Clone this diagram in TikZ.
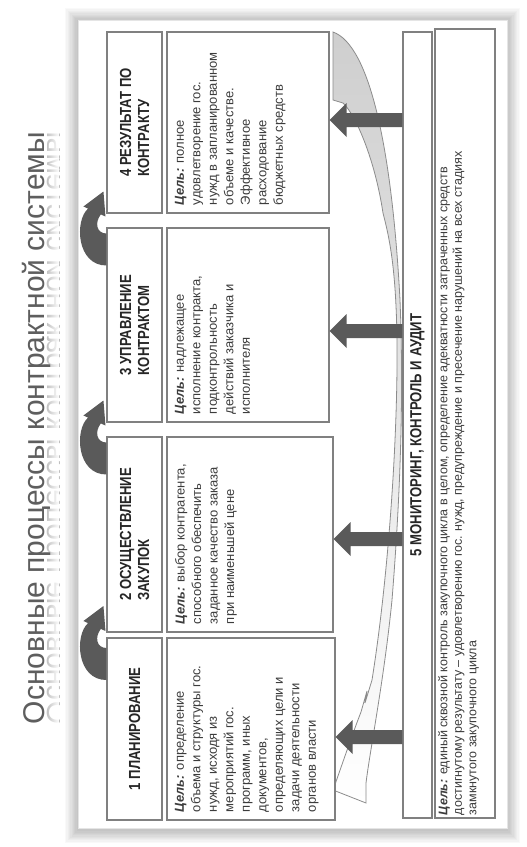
\documentclass[tikz,border=0pt]{standalone}
\usepackage{fontspec}
\usepackage{graphicx}
\setmainfont{Liberation Sans}
\newfontfamily\narrowfont[FakeStretch=0.82]{Liberation Sans}
\usetikzlibrary{arrows.meta,calc,fadings}
\definecolor{agray}{HTML}{5A5A5A}
\definecolor{bgray}{HTML}{808080}
\definecolor{tgray}{HTML}{262626}
\definecolor{cgray}{HTML}{3C3C3C}
\definecolor{titlegray}{HTML}{5E5E5E}
\tikzfading[name=reflfade, left color=transparent!100, right color=transparent!0]
\newcommand\tbox[3]{\begin{minipage}[t][#2][t]{#1}\raggedright #3\end{minipage}}
\newcommand\goal{\textbf{\textit{Цель:}}}
\begin{document}
\begin{tikzpicture}[x=1pt,y=-1pt,
  hbox/.style={draw=bgray, line width=1.1pt, fill=white, rotate=90, inner sep=0pt, align=left, text=tgray,
    font=\narrowfont\bfseries\fontsize{16}{18}\selectfont},
  cbox/.style={draw=bgray, line width=1.1pt, fill=white, rotate=90, inner sep=8pt, text=cgray,
    font=\fontsize{13}{16.5}\selectfont},
  blockarrow/.style={fill=agray, to path={let \p1=(\tikztostart), \p2=(\tikztotarget) in
    (\x1,\y1+7pt) -- (\x2+17pt,\y2+7pt) -- (\x2+17pt,\y2+17pt) -- (\p2)
    -- (\x2+17pt,\y2-17pt) -- (\x2+17pt,\y2-7pt) -- (\x1,\y1-7pt) -- cycle}},
  curvarr/.pic={\fill[agray] (0,45) .. controls (-30,45) and (-32,0) .. (-18.4,-11.9) -- (-23,-14) -- (-3,-29)
      -- (-1,-4) -- (-5.6,-6.1) .. controls (-12,2) and (-10,13) .. (0,13) -- cycle;}
]
\useasboundingbox (0,0) rectangle (527,847);
\fill[white] (0,0) rectangle (527,847);

% title with reflection
\begin{scope}
\clip (44,90) rectangle (59,770);
\node[rotate=90, anchor=base, text=gray!50, font=\fontsize{30}{36}\selectfont, inner sep=0pt] (titlerefl) at (47,428)
  {\scalebox{1}[-1]{Основные процессы контрактной системы}};
\fill[white, path fading=reflfade] (46,90) rectangle (59,770);
\end{scope}
\node[rotate=90, anchor=base, text=titlegray, font=\fontsize{30}{36}\selectfont, inner sep=0pt] (title) at (45,428)
  {Основные процессы контрактной системы};

% panel shadow
\foreach \i in {1,...,10} {
  \fill[black, opacity=0.022] (78-\i*1.3, 20-\i*1.3+1) rectangle (507+\i*1.3, 828+\i*1.3+2);
}
\fill[white, draw=gray!20] (78,20) rectangle (507,828);

% big crescent arc
\shade[top color=gray!38, middle color=gray!22, bottom color=white, draw=gray!90, line width=0.8pt]
  (333,32) .. controls (370,45) and (392,150) .. (400,300)
  .. controls (404,400) and (400,500) .. (392,600)
  .. controls (384,680) and (370,750) .. (366,783) -- (366,803) -- (333,790)
  .. controls (342,765) and (352,735) .. (361,712) -- (367,691) -- (365,703) -- (372,680)
  .. controls (388,580) and (398,440) .. (397,340)
  .. controls (396,270) and (390,240) .. (383,213)
  .. controls (375,160) and (356,115) .. (343,103) -- (333,100) -- cycle;

% header boxes
\node[hbox, minimum width=181pt, minimum height=55pt] (h4) at (134.5,122.5) {4 РЕЗУЛЬТАТ ПО\\КОНТРАКТУ};
\node[hbox, minimum width=194pt, minimum height=55pt] (h3) at (134.5,325) {3 УПРАВЛЕНИЕ\\КОНТРАКТОМ};
\node[hbox, minimum width=195pt, minimum height=55pt] (h2) at (134.5,534.5) {2 ОСУЩЕСТВЛЕНИЕ\\ЗАКУПОК};
\node[hbox, minimum width=182pt, minimum height=55pt] (h1) at (134.5,729) {1 ПЛАНИРОВАНИЕ};

% content boxes
\node[cbox, minimum width=181pt, minimum height=162pt] (c4) at (248,122.5)
  {\tbox{165pt}{146pt}{\goal{} полное\\ удовлетворение гос.\\ нужд в запланированном\\ объеме и качестве.\\ Эффективное\\ расходование\\ бюджетных средств}};
\node[cbox, minimum width=194pt, minimum height=162pt] (c3) at (248,325)
  {\tbox{178pt}{146pt}{\goal{} надлежащее\\ исполнение контракта,\\ подконтрольность\\ действий заказчика и\\ исполнителя}};
\node[cbox, minimum width=195pt, minimum height=166pt] (c2) at (250,534.5)
  {\tbox{179pt}{150pt}{\goal{} выбор контрагента,\\ способного обеспечить\\ заданное качество заказа\\ при наименьшей цене}};
\node[cbox, minimum width=182pt, minimum height=168pt] (c1) at (251,729)
  {\tbox{166pt}{152pt}{\goal{} определение\\ объема и структуры гос.\\ нужд, исходя из\\ мероприятий гос.\\ программ, иных\\ документов,\\ определяющих цели и\\ задачи деятельности\\ органов власти}};

% box 5
\node[hbox, minimum width=786pt, minimum height=29pt] (h5) at (417.5,425) {5 МОНИТОРИНГ, КОНТРОЛЬ И АУДИТ\hspace{20pt}};
\node[cbox, inner sep=3pt, minimum width=789pt, minimum height=60pt, font=\fontsize{12.5}{14.5}\selectfont] (c5) at (465,423.5)
  {\tbox{783pt}{54pt}{\goal{} единый сквозной контроль закупочного цикла в целом, определение адекватности затраченных средств\\ достигнутому результату – удовлетворению гос. нужд, предупреждение и пресечение нарушений на всех стадиях\\ замкнутого закупочного цикла}};

% block arrows from monitoring to each stage
\path[blockarrow] ($(h5.north |- c1.center)+(0,8)$) to ($(c1.south)+(0,8)$);
\path[blockarrow] ($(h5.north |- c2.center)+(0,4.5)$) to ($(c2.south)+(0,4.5)$);
\path[blockarrow] ($(h5.north |- c3.center)+(0,6)$) to ($(c3.south)+(0,6)$);
\path[blockarrow] ($(h5.north |- c4.center)+(0,-2.5)$) to ($(c4.south)+(0,-2.5)$);

% curved arrows between stages
\coordinate (g12) at ($(h1.north east)!0.5!(h2.north west)$);
\coordinate (g23) at ($(h2.north east)!0.5!(h3.north west)$);
\coordinate (g34) at ($(h3.north east)!0.5!(h4.north west)$);
\pic at (g12) {curvarr};
\pic at (g23) {curvarr};
\pic at (g34) {curvarr};
\end{tikzpicture}
\end{document}
